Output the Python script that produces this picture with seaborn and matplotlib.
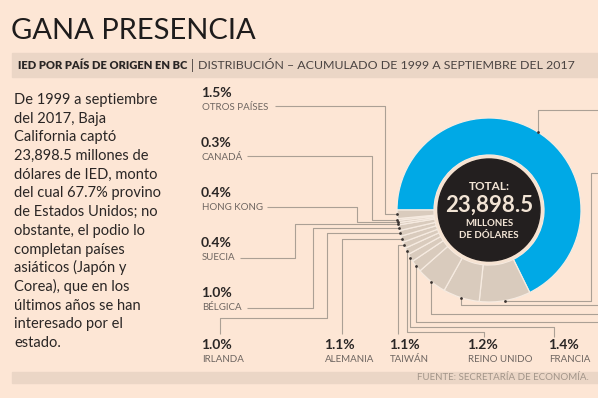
import numpy as np
import matplotlib.pyplot as plt
import seaborn as sns

sns.set_theme(style="white")
plt.rcParams['font.family'] = ['Lato', 'DejaVu Sans']

# data
paises = ['ESTADOS UNIDOS', 'JAPÓN', 'COREA', 'CHINA', 'PAÍSES BAJOS', 'FRANCIA',
          'REINO UNIDO', 'TAIWÁN', 'ALEMANIA', 'IRLANDA', 'BÉLGICA', 'SUECIA',
          'HONG KONG', 'CANADÁ', 'OTROS PAÍSES']
porcentajes = [67.7, 9.0, 6.4, 5.4, 2.1, 1.4, 1.2, 1.1, 1.1, 1.0, 1.0, 0.4, 0.4, 0.3, 1.5]
total_txt = '23,898.5'

titulo = 'GANA PRESENCIA'
subtitulo_bold = 'IED POR PAÍS DE ORIGEN EN BC'
subtitulo = 'DISTRIBUCIÓN – ACUMULADO DE 1999 A SEPTIEMBRE DEL 2017'
fuente = 'FUENTE: SECRETARÍA DE ECONOMÍA.'
parrafo = ['De 1999 a septiembre', 'del 2017, Baja', 'California captó',
           '23,898.5 millones de', 'dólares de IED, monto', 'del cual 67.7% provino',
           'de Estados Unidos; no', 'obstante, el podio lo', 'completan países',
           'asiáticos (Japón y', 'Corea), que en los', 'últimos años se han',
           'interesado por el', 'estado.']

# colours
BG = '#FDE6D5'
BAND = '#EBD6C6'
BLUE = '#00A9E6'
GREY = '#D9CBBD'
LINE = '#ABA095'
DARK = '#2A2625'
NAME = '#6E6661'

W, H = 598, 398
CX, CY, R, RING = 489, 210, 92, 37
START = 180

fig = plt.figure(figsize=(W / 100, H / 100), dpi=100, facecolor=BG)
ax = fig.add_axes([0, 0, 1, 1])
ax.set_facecolor(BG)

colores = [BLUE] + [GREY] * (len(porcentajes) - 1)
ax.pie(porcentajes, colors=colores, startangle=START, counterclock=True,
       radius=R, center=(CX, CY),
       wedgeprops=dict(width=RING, edgecolor='#F6EBE1', linewidth=0.9))
ax.set_xlim(0, W)
ax.set_ylim(H, 0)
ax.set_aspect('equal')
ax.axis('off')

# center
ax.add_patch(plt.Circle((CX, CY), R - RING - 1, color='#F6E3D2', zorder=3))
ax.add_patch(plt.Circle((CX, CY), R - RING - 4, color='#231F1F', zorder=4))
ax.text(CX, 186, 'TOTAL:', ha='center', va='center', color='#F2E4D5', fontsize=8.5,
        fontweight='bold', zorder=5)
ax.text(CX, 205, total_txt, ha='center', va='center', color='#F2E4D5', fontsize=16,
        fontweight='bold', family=['Liberation Sans Narrow', 'Lato', 'DejaVu Sans'], zorder=5)
ax.text(CX, 223, 'MILLONES', ha='center', va='center', color='#F2E4D5', fontsize=7,
        fontweight='bold', zorder=5)
ax.text(CX, 236, 'DE DÓLARES', ha='center', va='center', color='#F2E4D5', fontsize=7,
        fontweight='bold', zorder=5)

# dot positions from the data
frac = np.array(porcentajes) / sum(porcentajes)
mid = START + 360 * (np.cumsum(frac) - frac / 2)
dots = {p: (CX + R * np.cos(np.radians(a)), CY + R * np.sin(np.radians(a)))
        for p, a in zip(paises, mid)}

# leader routes ('X'/'Y' = dot coordinate)
rutas = {
    'OTROS PAÍSES': [(275, 106), (385, 106), (385, 'Y'), ('X', 'Y')],
    'CANADÁ': [(247, 156), (372, 156), (372, 'Y'), ('X', 'Y')],
    'HONG KONG': [(267, 207), (357, 207), (357, 'Y'), ('X', 'Y')],
    'SUECIA': [(240, 258), (295, 258), (295, 'Y'), ('X', 'Y')],
    'BÉLGICA': [(247, 308), (313, 308), (313, 'Y'), ('X', 'Y')],
    'IRLANDA': [(220, 334), (220, 318), (327, 318), (327, 'Y'), ('X', 'Y')],
    'ALEMANIA': [(342, 334), (342, 'Y'), ('X', 'Y')],
    'TAIWÁN': [(398, 334), (398, 'Y'), ('X', 'Y')],
    'REINO UNIDO': [(484, 337), (484, 332), ('X', 332), ('X', 'Y')],
    'FRANCIA': [(554, 337), (554, 327), ('X', 327), ('X', 'Y')],
    'PAÍSES BAJOS': [(W, 322), ('X', 322), ('X', 'Y')],
    'CHINA': [(W, 314), ('X', 314), ('X', 'Y')],
    'COREA': [(W, 305), ('X', 305), ('X', 'Y')],
    'JAPÓN': [(W, 173), (591, 173), (591, 'Y'), ('X', 'Y')],
    'ESTADOS UNIDOS': [(W, 110), ('X', 110), ('X', 'Y')],
}
for p, ruta in rutas.items():
    dx, dy = dots[p]
    xs = [dx if x == 'X' else x for x, y in ruta]
    ys = [dy if y == 'Y' else y for x, y in ruta]
    ax.plot(xs, ys, color=LINE, lw=0.8, zorder=2, solid_capstyle='butt')
    ax.scatter([dx], [dy], s=4, color='#3A3330', zorder=6, linewidths=0)

# labels
etiquetas = {
    'OTROS PAÍSES': (201, 93), 'CANADÁ': (201, 143), 'HONG KONG': (201, 193),
    'SUECIA': (201, 243), 'BÉLGICA': (201, 293), 'IRLANDA': (201, 345),
    'ALEMANIA': (324, 345), 'TAIWÁN': (389, 345), 'REINO UNIDO': (467, 345),
    'FRANCIA': (548, 345),
}
for p, (x, y) in etiquetas.items():
    v = porcentajes[paises.index(p)]
    ax.text(x, y, f'{v:.1f}%', ha='left', va='center', color=DARK, fontsize=10,
            fontweight='bold')
    ax.text(x + 1, y + 14, p, ha='left', va='center', color=NAME, fontsize=7)

# title and bands
ax.text(11, 31, titulo, ha='left', va='center', color='#1E1C1C', fontsize=21,
        fontweight='normal')
ax.add_patch(plt.Rectangle((12, 53), W - 12, 24, color=BAND, zorder=1))
ax.text(18, 65.5, subtitulo_bold, ha='left', va='center', color=DARK,
        fontsize=8, fontweight='heavy', zorder=2)
ax.text(191, 65.5, '|', ha='left', va='center', color='#4A4341', fontsize=9, zorder=2)
ax.text(198, 65.5, subtitulo, ha='left', va='center', color='#4A4341',
        fontsize=8.9, zorder=2)
ax.add_patch(plt.Rectangle((12, 372), W - 12, 11, color=BAND, zorder=1))
ax.text(589, 377.5, fuente, ha='right', va='center', color='#A39589', fontsize=7, zorder=2)

# paragraph
for i, linea in enumerate(parrafo):
    ax.text(14, 104 + i * 18.7, linea, ha='left', va='baseline', color=DARK, fontsize=10.5)

plt.savefig('out.png', dpi=100, facecolor=BG)
